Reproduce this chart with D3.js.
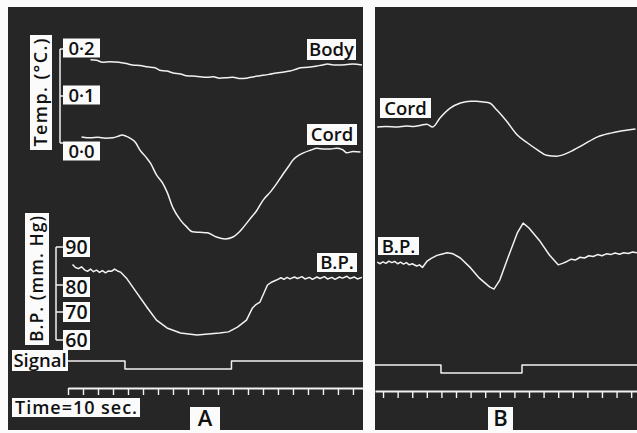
<!DOCTYPE html>
<html lang="en">
<head>
<meta charset="UTF-8">
<title>Cord temperature and blood pressure</title>
<script src="https://d3js.org/d3.v7.min.js"></script>
<style>
  body { margin: 0; background: #fbfbfb; }
  svg { display: block; }
  .trace { fill: none; stroke: #f2f2f2; stroke-width: 1.5; stroke-linejoin: round; }
  .lbl { font-family: "Open Sans", Lato, sans-serif; font-weight: 600; fill: #111; }
</style>
</head>
<body>
<script>
// time in seconds, temperature in deg C (relative), pressure in mm Hg
const bodyA_t = [15, 19, 23, 28, 34, 39, 43, 48, 53, 58, 61, 66, 70, 75, 79, 85, 93, 97, 101, 106, 110, 115, 119, 124, 128, 134, 139, 144, 148, 152, 155, 160, 166, 170, 173, 177, 181, 186, 190, 196];
const bodyA_v = [0.177, 0.176, 0.172, 0.173, 0.172, 0.169, 0.166, 0.165, 0.162, 0.16, 0.155, 0.153, 0.149, 0.147, 0.143, 0.142, 0.14, 0.141, 0.138, 0.139, 0.14, 0.137, 0.138, 0.141, 0.143, 0.146, 0.149, 0.151, 0.153, 0.157, 0.16, 0.161, 0.164, 0.166, 0.168, 0.166, 0.166, 0.167, 0.168, 0.166];

const cordA_t = [9, 15, 20, 25, 30, 34, 36, 39, 41, 45, 48, 52, 55, 59, 63, 66, 70, 75, 79, 83, 88, 93, 99, 105, 110, 114, 117, 121, 126, 130, 135, 139, 143, 147, 150, 154, 157, 162, 166, 171, 175, 179, 183, 186, 190, 195];
const cordA_v = [0.013, 0.011, 0.012, 0.01, 0.011, 0.015, 0.017, 0.014, 0.011, 0.001, -0.015, -0.03, -0.043, -0.068, -0.085, -0.104, -0.138, -0.164, -0.178, -0.189, -0.19, -0.191, -0.2, -0.204, -0.2, -0.19, -0.179, -0.163, -0.143, -0.122, -0.104, -0.087, -0.068, -0.05, -0.036, -0.026, -0.021, -0.015, -0.011, -0.013, -0.013, -0.011, -0.014, -0.021, -0.018, -0.019];

const bpA_t = [3, 5, 7, 9, 11, 13, 15, 17, 19, 21, 23, 25, 27, 29, 31, 33, 35, 39, 46, 53, 59, 66, 75, 86, 101, 107, 113, 119, 123, 125, 128, 133, 136, 139, 142, 144, 146, 148, 151, 153, 156, 158, 161, 163, 166, 168, 171, 173, 176, 178, 181, 183, 186, 188, 191, 193, 196];
const bpA_v = [85.4, 84.6, 84.3, 84.8, 84.0, 83.6, 84.2, 83.5, 83.9, 83.3, 83.8, 83.2, 83.7, 83.6, 84.2, 83.7, 83.4, 81.8, 77.0, 71.5, 67.1, 64.3, 62.5, 61.8, 62.5, 62.9, 64.6, 67.1, 71.5, 72.6, 73.7, 80.0, 80.8, 81.3, 81.9, 81.5, 82.0, 81.6, 82.1, 81.7, 82.2, 81.6, 82.0, 81.5, 82.1, 81.7, 82.2, 81.6, 82.0, 81.5, 82.1, 81.8, 82.3, 81.7, 82.1, 81.6, 82.0];

const cordB_t = [-4, 2, 10, 16, 21, 26, 30, 34, 39, 46, 53, 60, 64, 69, 73, 78, 85, 92, 99, 106, 112, 119, 128, 137, 147, 156, 164, 173];
const cordB_v = [0.034, 0.035, 0.034, 0.036, 0.035, 0.038, 0.04, 0.034, 0.053, 0.074, 0.085, 0.089, 0.089, 0.087, 0.085, 0.07, 0.045, 0.017, 0.0, -0.015, -0.026, -0.028, -0.019, -0.004, 0.013, 0.021, 0.026, 0.03];

const bpB_t = [-4, -2, 0, 2, 4, 6, 8, 10, 12, 14, 16, 18, 20, 23, 25, 27, 30, 33, 37, 40, 44, 48, 53, 60, 66, 73, 76, 80, 85, 92, 96, 100, 107, 114, 120, 123, 126, 129, 132, 135, 138, 141, 144, 147, 150, 153, 156, 159, 162, 165, 168, 171, 174];
const bpB_v = [86.0, 85.6, 86.1, 85.7, 86.3, 85.9, 86.2, 85.6, 86.0, 85.5, 85.9, 85.3, 85.6, 85.0, 85.3, 84.6, 86.2, 87.0, 87.8, 88.1, 88.5, 88.2, 87.1, 84.5, 81.8, 79.3, 78.5, 81.3, 86.6, 93.7, 96.3, 95.0, 91.8, 87.9, 85.3, 85.7, 86.2, 86.8, 86.6, 87.3, 87.1, 87.7, 87.5, 88.0, 87.7, 88.2, 88.0, 88.4, 88.1, 88.5, 88.3, 88.7, 88.5];

// signal: 1 = resting level, 0 = lowered
const sigA_t = [0, 38, 109, 196.7];
const sigA_v = [1, 0, 1, 1];
const sigB_t = [-5.5, 39.7, 95.2, 174];
const sigB_v = [1, 0, 1, 1];

const tempTicks = [0, 0.1, 0.2];
const tempTickLabels = ["0·0", "0·1", "0·2"];
const bpTicks = [60, 70, 80, 90];
const timeTicks = d3.range(0, 200, 10);

const W = 637, H = 433;
const svg = d3.select("body").append("svg").attr("width", W).attr("height", H);

// dark recording panels
svg.append("rect").attr("x", 8).attr("y", 7).attr("width", 355).attr("height", 423).attr("fill", "#262626");
svg.append("rect").attr("x", 375).attr("y", 7).attr("width", 262).attr("height", 423).attr("fill", "#262626");

const xA = d3.scaleLinear().domain([0, 196.7]).range([68, 363]);
const xB = d3.scaleLinear().domain([-5.5, 174]).range([375, 637]);
const tempY = d3.scaleLinear().domain([0, 0.2]).range([143, 49]);
const bpY = d3.scaleLinear().domain([60, 70, 80, 90]).range([340, 312, 285, 247]);
const sigYA = d3.scaleLinear().domain([0, 1]).range([369, 361]);
const sigYB = d3.scaleLinear().domain([0, 1]).range([373, 365]);

function trace(x, y, ts, vs, curve, width) {
  const pts = ts.map((t, i) => [t, vs[i]]);
  svg.append("path")
    .attr("class", "trace")
    .attr("stroke-width", width || 1.5)
    .attr("d", d3.line().x(d => x(d[0])).y(d => y(d[1])).curve(curve || d3.curveMonotoneX)(pts));
}

trace(xA, tempY, bodyA_t, bodyA_v);
trace(xA, tempY, cordA_t, cordA_v);
trace(xA, bpY, bpA_t, bpA_v, d3.curveLinear, 1.8);
trace(xB, tempY, cordB_t, cordB_v);
trace(xB, bpY, bpB_t, bpB_v, d3.curveLinear, 2.6);
trace(xA, sigYA, sigA_t, sigA_v, d3.curveStepAfter, 2);
trace(xB, sigYB, sigB_t, sigB_v, d3.curveStepAfter, 2);

// time markers
function timeAxis(x, y) {
  const g = svg.append("g").attr("transform", `translate(0,${y})`)
    .call(d3.axisBottom(x).tickValues(timeTicks.filter(t => t <= x.domain()[1])).tickSize(7).tickSizeOuter(0).tickFormat(""));
  g.select(".domain").attr("stroke", "#f2f2f2").attr("stroke-width", 2);
  g.selectAll(".tick line").attr("stroke", "#f2f2f2").attr("stroke-width", 1.4);
}
timeAxis(xA, 388);
timeAxis(xB, 391);

// white label boxes
function label(text, x, y, w, h, size, rotate, fit) {
  const g = svg.append("g");
  let t;
  if (rotate) {
    g.attr("transform", `translate(${x + w / 2},${y + h / 2}) rotate(-90)`);
    g.append("rect").attr("x", -h / 2).attr("y", -w / 2).attr("width", h).attr("height", w).attr("fill", "#fbfbfb");
    t = g.append("text").attr("x", 0).attr("y", 0);
  } else {
    g.append("rect").attr("x", x).attr("y", y).attr("width", w).attr("height", h).attr("fill", "#fbfbfb");
    t = g.append("text").attr("x", x + w / 2).attr("y", y + h / 2);
  }
  t.attr("class", "lbl").attr("dy", "0.36em").attr("text-anchor", "middle")
    .attr("font-size", size).text(text);
  if (fit) t.attr("textLength", fit).attr("lengthAdjust", "spacing");
}

// temperature scale bracket
const tb = svg.append("g").attr("stroke", "#f2f2f2").attr("stroke-width", 1.5).attr("fill", "none");
tb.append("line").attr("x1", 60).attr("x2", 60).attr("y1", tempY(0.2)).attr("y2", tempY(0));
tempTicks.forEach(v => tb.append("line").attr("x1", 60).attr("x2", 64).attr("y1", tempY(v)).attr("y2", tempY(v)));
tempTicks.forEach((v, i) => {
  const cy = v === 0 ? tempY(v) + 8 : tempY(v) - 1;
  label(tempTickLabels[i], 63, cy - 9.5, 37, 19, 18.5);
});
label("Temp. (°C.)", 30, 35, 22, 115, 18, true, 108);

// blood pressure scale bracket
const bb = svg.append("g").attr("stroke", "#f2f2f2").attr("stroke-width", 1.5).attr("fill", "none");
bb.append("line").attr("x1", 56).attr("x2", 56).attr("y1", bpY(90)).attr("y2", bpY(60));
bpTicks.forEach(v => bb.append("line").attr("x1", 56).attr("x2", 63).attr("y1", bpY(v)).attr("y2", bpY(v)));
bpTicks.forEach(v => label(String(v), 63, bpY(v) - 10 + (v === 80 ? 2 : 0), 27, 20, 19.5));
label("B.P. (mm. Hg)", 25, 213, 24, 132, 17.5, true, 126);

// trace names
label("Body", 307, 39, 49, 21, 18.5);
label("Cord", 307, 124, 50, 21, 18.5);
label("B.P.", 317, 253, 40, 19, 18.5);
label("Cord", 380, 98, 51, 20, 18.5);
label("B.P.", 378, 237, 41, 18, 18.5);
label("Signal", 12, 350, 56, 21, 18.5);
label("Time=10 sec.", 12, 398, 128, 19, 18, false, 122);
label("A", 190, 407, 30, 23, 22);
label("B", 488, 407, 25, 23, 22);
</script>
</body>
</html>
